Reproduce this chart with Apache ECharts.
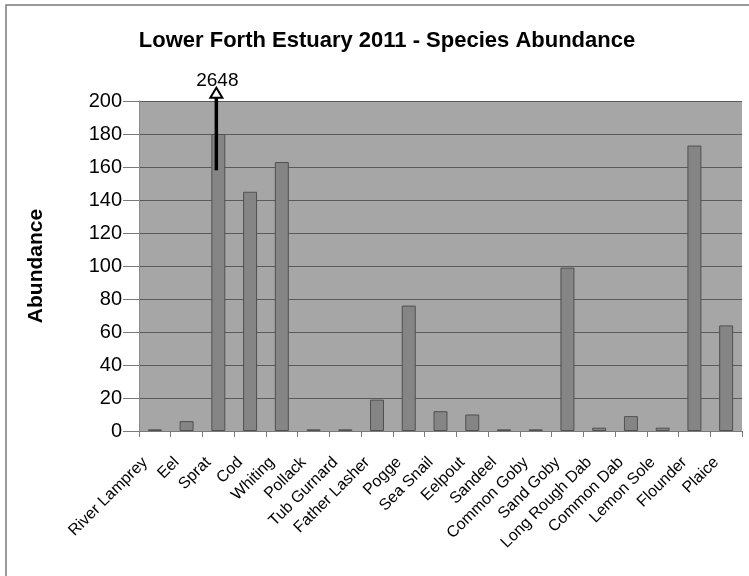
<!DOCTYPE html>
<html>
<head>
<meta charset="utf-8">
<style>
  html, body { margin: 0; padding: 0; background: #fff; }
  #chart { width: 749px; height: 576px; }
</style>
<script src="https://cdn.jsdelivr.net/npm/echarts@6/dist/echarts.min.js"></script>
</head>
<body>
<div id="chart"></div>
<script>
// Species caught in the Lower Forth Estuary, 2011
const species = [
  'River Lamprey', 'Eel', 'Sprat', 'Cod', 'Whiting', 'Pollack', 'Tub Gurnard',
  'Father Lasher', 'Pogge', 'Sea Snail', 'Eelpout', 'Sandeel', 'Common Goby',
  'Sand Goby', 'Long Rough Dab', 'Common Dab', 'Lemon Sole', 'Flounder', 'Plaice'
];
const abundance = [1, 6, 2648, 145, 163, 1, 1, 19, 76, 12, 10, 1, 1, 99, 2, 9, 2, 173, 64];
const yTicks = [0, 20, 40, 60, 80, 100, 120, 140, 160, 180, 200];

// Off-scale counts are truncated at this height and flagged with an arrow
const breakAt = 180;
const arrowSpan = [158, 208];

const shown = abundance.map(v => Math.min(v, breakAt));
const FONT = '"Liberation Sans", Arial, sans-serif';

const chart = echarts.init(document.getElementById('chart'), null, { renderer: 'canvas' });

chart.setOption({
  animation: false,
  backgroundColor: '#ffffff',
  textStyle: { fontFamily: FONT },
  title: {
    text: 'Lower Forth Estuary 2011 - Species Abundance',
    left: 382,
    textAlign: 'center',
    top: 25,
    textStyle: { fontFamily: FONT, fontSize: 22, fontWeight: 'bold', color: '#000' }
  },
  grid: { left: 139, right: 7, top: 101, bottom: 145, backgroundColor: '#a6a6a6', show: true, borderWidth: 0 },
  xAxis: {
    type: 'category',
    data: species,
    boundaryGap: true,
    axisLine: { show: true, lineStyle: { color: '#7a7a7a', width: 1 } },
    axisTick: { show: true, length: 6, alignWithLabel: false, lineStyle: { color: '#7a7a7a' } },
    axisLabel: {
      rotate: 45, interval: 0, margin: 19, padding: [0, 14, 0, 0],
      fontFamily: FONT, fontSize: 16, color: '#000'
    }
  },
  yAxis: {
    type: 'value',
    min: yTicks[0],
    max: yTicks[yTicks.length - 1],
    interval: yTicks[1] - yTicks[0],
    name: 'Abundance',
    nameLocation: 'middle',
    nameGap: 92,
    nameRotate: 90,
    nameTextStyle: { fontFamily: FONT, fontSize: 21, fontWeight: 'bold', color: '#000' },
    axisLine: { show: true, lineStyle: { color: '#8a8a8a' } },
    axisTick: { show: true, inside: false, length: 16, lineStyle: { color: '#7a7a7a' } },
    axisLabel: { margin: 17, fontFamily: FONT, fontSize: 20, color: '#000' },
    splitLine: { show: true, lineStyle: { color: '#5a5a5a', width: 1.2 } }
  },
  series: [{
    type: 'bar',
    data: shown,
    barWidth: '44%',
    itemStyle: { color: '#858585', borderColor: '#505050', borderWidth: 1 }
  }]
});

// Break-of-scale marker for any species whose count exceeds the axis
function drawBreakMarkers() {
  const elements = [{
    type: 'rect',
    silent: true,
    z: -1,
    shape: { x: 6, y: 5, width: 900, height: 900 },
    style: { fill: null, stroke: '#7a7a7a', lineWidth: 1.5 }
  }];
  abundance.forEach((v, i) => {
    if (v <= breakAt) return;
    const from = chart.convertToPixel({ seriesIndex: 0 }, [i, arrowSpan[0]]);
    const to = chart.convertToPixel({ seriesIndex: 0 }, [i, arrowSpan[1]]);
    const x = from[0] - 2;
    elements.push({
      type: 'line', silent: true, z: 100,
      shape: { x1: x, y1: from[1], x2: x, y2: to[1] + 8 },
      style: { stroke: '#000', lineWidth: 3.5 }
    });
    elements.push({
      type: 'polygon', silent: true, z: 101,
      shape: { points: [[x, to[1]], [x - 6, to[1] + 10], [x + 6, to[1] + 10]] },
      style: { fill: '#ffffff', stroke: '#000', lineWidth: 2, lineJoin: 'miter' }
    });
    elements.push({
      type: 'text', silent: true, z: 102,
      x: x + 1, y: to[1] + 2,
      style: {
        text: String(v), fill: '#000', font: '19px ' + FONT,
        textAlign: 'center', textVerticalAlign: 'bottom'
      }
    });
  });
  chart.setOption({ graphic: { elements } });
}
drawBreakMarkers();
</script>
</body>
</html>
